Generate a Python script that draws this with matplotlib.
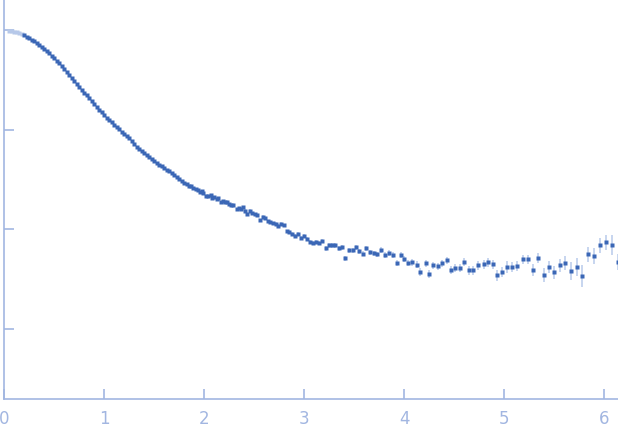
import numpy as np
import matplotlib
matplotlib.use("Agg")
import matplotlib.pyplot as plt
from matplotlib.ticker import NullLocator, NullFormatter

# q (1/nm) и log10 интенсивности

# плотная часть кривой (мелкие ошибки не видны)
q_dense = [0.050, 0.075, 0.100, 0.125, 0.150, 0.175, 0.200, 0.225, 0.250, 0.275,
           0.300, 0.325, 0.350, 0.375, 0.400, 0.425, 0.450, 0.475, 0.500, 0.525,
           0.550, 0.575, 0.600, 0.625, 0.650, 0.675, 0.700, 0.725, 0.750, 0.775,
           0.800, 0.825, 0.850, 0.875, 0.900, 0.925, 0.950, 0.975, 1.000, 1.025,
           1.050, 1.075, 1.100, 1.125, 1.150, 1.175, 1.200, 1.225, 1.250, 1.275,
           1.300, 1.325, 1.350, 1.375, 1.400, 1.425, 1.450, 1.475, 1.500, 1.525,
           1.550, 1.575, 1.600, 1.625, 1.650, 1.675, 1.700, 1.725, 1.750, 1.775,
           1.800, 1.825, 1.850]
log_dense = [-0.005, -0.010, -0.015, -0.024, -0.035, -0.044, -0.055, -0.068, -0.083, -0.098,
             -0.115, -0.132, -0.150, -0.171, -0.191, -0.212, -0.234, -0.257, -0.281, -0.307,
             -0.334, -0.362, -0.391, -0.421, -0.451, -0.481, -0.512, -0.540, -0.569, -0.598,
             -0.627, -0.656, -0.685, -0.713, -0.742, -0.772, -0.802, -0.827, -0.853, -0.878,
             -0.903, -0.927, -0.951, -0.973, -0.996, -1.019, -1.043, -1.065, -1.086, -1.117,
             -1.148, -1.171, -1.194, -1.214, -1.234, -1.254, -1.274, -1.294, -1.314, -1.332,
             -1.349, -1.367, -1.384, -1.402, -1.419, -1.437, -1.454, -1.474, -1.494, -1.513,
             -1.530, -1.545, -1.560]
n_excluded = 6  # первые точки светлые (исключены)

# разреженная часть с планками ошибок
q_bin = [1.867, 1.890, 1.914, 1.937, 1.957, 1.980, 1.990, 2.017, 2.040, 2.064,
         2.074, 2.100, 2.124, 2.140, 2.164, 2.184, 2.207, 2.230, 2.250, 2.270,
         2.290, 2.324, 2.347, 2.367, 2.390, 2.410, 2.430, 2.460, 2.480, 2.507,
         2.530, 2.560, 2.584, 2.610, 2.637, 2.660, 2.687, 2.714, 2.740, 2.767,
         2.800, 2.827, 2.850, 2.880, 2.907, 2.940, 2.967, 3.000, 3.030, 3.060,
         3.090, 3.120, 3.150, 3.180, 3.220, 3.250, 3.280, 3.310, 3.350, 3.380,
         3.410, 3.450, 3.484, 3.520, 3.550, 3.590, 3.620, 3.660, 3.700, 3.730,
         3.770, 3.810, 3.850, 3.890,
         3.924, 3.964, 4.000, 4.040, 4.080, 4.124, 4.157, 4.214, 4.250, 4.290,
         4.340, 4.380, 4.424, 4.467, 4.510, 4.560, 4.600, 4.650, 4.690, 4.740,
         4.794, 4.840, 4.884, 4.927, 4.980, 5.030, 5.080, 5.130, 5.184, 5.240,
         5.290, 5.340, 5.400, 5.450, 5.497, 5.557, 5.610, 5.670, 5.727, 5.780,
         5.840, 5.900, 5.960, 6.020, 6.080, 6.137]
log_bin = [-1.565, -1.582, -1.598, -1.605, -1.628, -1.618, -1.638, -1.665, -1.665, -1.655,
           -1.688, -1.678, -1.698, -1.688, -1.728, -1.712, -1.728, -1.728, -1.745, -1.758,
           -1.758, -1.798, -1.788, -1.798, -1.778, -1.812, -1.846, -1.812, -1.838, -1.849,
           -1.859, -1.909, -1.873, -1.889, -1.919, -1.929, -1.939, -1.946, -1.966, -1.946,
           -1.959, -2.019, -2.029, -2.049, -2.069, -2.049, -2.083, -2.069, -2.093, -2.129,
           -2.139, -2.126, -2.139, -2.119, -2.190, -2.159, -2.159, -2.159, -2.190, -2.180,
           -2.290, -2.210, -2.210, -2.180, -2.220, -2.244, -2.190, -2.230, -2.240, -2.250,
           -2.210, -2.260, -2.240, -2.260,
           -2.340, -2.260, -2.300, -2.340, -2.330, -2.354, -2.430, -2.340, -2.450, -2.360,
           -2.370, -2.340, -2.310, -2.410, -2.390, -2.390, -2.330, -2.410, -2.410, -2.360,
           -2.350, -2.330, -2.350, -2.460, -2.430, -2.380, -2.380, -2.370, -2.300, -2.300,
           -2.410, -2.290, -2.460, -2.380, -2.430, -2.360, -2.340, -2.420, -2.380, -2.470,
           -2.250, -2.270, -2.159, -2.129, -2.159, -2.330]
err_bin = [0.008, 0.008, 0.008, 0.008, 0.009, 0.009, 0.009, 0.009, 0.010, 0.010,
           0.010, 0.010, 0.010, 0.011, 0.011, 0.011, 0.011, 0.012, 0.012, 0.012,
           0.012, 0.013, 0.013, 0.013, 0.013, 0.014, 0.014, 0.014, 0.014, 0.015,
           0.015, 0.015, 0.015, 0.016, 0.016, 0.016, 0.016, 0.017, 0.017, 0.017,
           0.018, 0.018, 0.018, 0.019, 0.019, 0.019, 0.020, 0.020, 0.020, 0.021,
           0.021, 0.021, 0.022, 0.022, 0.022, 0.023, 0.023, 0.023, 0.024, 0.024,
           0.025, 0.025, 0.025, 0.026, 0.026, 0.027, 0.027, 0.027, 0.028, 0.028,
           0.029, 0.029, 0.030, 0.030,
           0.030, 0.031, 0.031, 0.032, 0.033, 0.033, 0.040, 0.035, 0.040, 0.036,
           0.037, 0.037, 0.038, 0.042, 0.040, 0.040, 0.041, 0.045, 0.043, 0.044,
           0.045, 0.046, 0.046, 0.053, 0.050, 0.060, 0.050, 0.050, 0.047, 0.047,
           0.060, 0.050, 0.070, 0.060, 0.067, 0.067, 0.070, 0.090, 0.090, 0.110,
           0.075, 0.080, 0.075, 0.075, 0.100, 0.080]

x_ticks = [0, 1, 2, 3, 4, 5, 6]

axis_col = "#a2b6e1"
dot_col = "#3b67b6"
light_col = "#b6c8e9"
err_col = "#c3d2ee"

q_dense = np.array(q_dense)
i_dense = 10 ** np.array(log_dense)
q_bin = np.array(q_bin)
lb = np.array(log_bin)
eb = np.array(err_bin)
i_bin = 10 ** lb
yerr = [i_bin - 10 ** (lb - eb), 10 ** (lb + eb) - i_bin]

W, H = 618, 437
fig = plt.figure(figsize=(W / 100, H / 100), dpi=100)
x0, x1, ybot = 4.3, 618, 399.3
ax = fig.add_axes([x0 / W, (H - ybot) / H, (x1 - x0) / W, ybot / H])

ax.errorbar(q_bin, i_bin, yerr=yerr, fmt="none", ecolor=err_col, elinewidth=1.3, zorder=2)
# плотная часть - маркеры чуть крупнее, чтобы слились в полосу
ax.plot(q_dense[:n_excluded], i_dense[:n_excluded], "s", ms=3.2, color=light_col, mec="none", zorder=3)
ax.plot(q_dense[n_excluded:], i_dense[n_excluded:], "s", ms=3.2, color=dot_col, mec="none", zorder=3)
ax.plot(q_bin, i_bin, "s", ms=2.7, color=dot_col, mec="none", zorder=3)

ax.set_yscale("log")
ax.set_xlim(0, (x1 - x0) / 100)
ax.set_ylim(10 ** -3.704, 10 ** 0.301)
ax.yaxis.set_minor_locator(NullLocator())
ax.yaxis.set_major_formatter(NullFormatter())
ax.yaxis.set_minor_formatter(NullFormatter())
ax.set_xticks(x_ticks)
ax.set_xticklabels([str(t) for t in x_ticks])

for s in ["top", "right"]:
    ax.spines[s].set_visible(False)
for s in ["left", "bottom"]:
    ax.spines[s].set_color(axis_col)
    ax.spines[s].set_linewidth(1.2)
ax.tick_params(axis="both", direction="in", length=7, width=1.2, color=axis_col)
ax.tick_params(axis="x", labelsize=12, labelcolor=axis_col, pad=8)
ax.tick_params(axis="y", labelleft=False)

fig.savefig("out.png", dpi=100)
